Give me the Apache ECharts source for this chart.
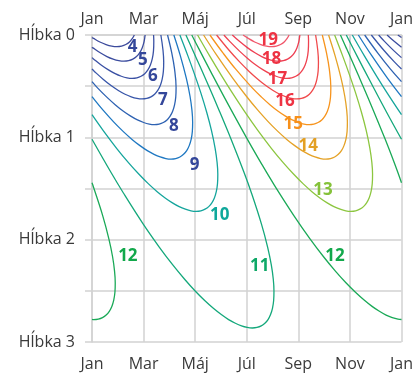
<!DOCTYPE html>
<html><head><meta charset="utf-8">
<script src="https://cdn.jsdelivr.net/npm/echarts@6/dist/echarts.min.js"></script>
<style>html,body{margin:0;padding:0;background:#fff}#c{width:416px;height:376px}</style>
</head><body><div id="c"></div>
<script>
// x = month (0 = Jan ... 12 = next Jan), y = depth (Hĺbka)
const monthTicks = ['Jan', 'Mar', 'Máj', 'Júl', 'Sep', 'Nov', 'Jan'];
const depthTicks = ['Hĺbka 0', 'Hĺbka 1', 'Hĺbka 2', 'Hĺbka 3'];

// contour lines: each level is a list of pieces of [month, depth]
const iso4 = [
  [[11.858,0],[12,0.024]],
  [[0,0.024],[0.045,0.031],[0.306,0.068],[0.546,0.093],[0.766,0.108],[0.966,0.113],[1.148,0.108],[1.31,0.093],[1.452,0.068],[1.573,0.031],[1.642,0]]
];
const iso5 = [
  [[11.44,0],[11.727,0.0645],[12,0.119]],
  [[0,0.119],[0.035,0.126],[0.319,0.174],[0.58,0.211],[0.819,0.236],[1.039,0.251],[1.24,0.256],[1.421,0.251],[1.583,0.236],[1.726,0.211],[1.847,0.174],[1.945,0.126],[2.019,0.0645],[2.06,0]]
];
const iso6 = [
  [[11.113,0],[11.34,0.062],[11.71,0.155],[12,0.221]],
  [[0,0.221],[0.046,0.231],[0.354,0.293],[0.638,0.341],[0.899,0.378],[1.138,0.403],[1.358,0.418],[1.559,0.423],[1.74,0.418],[1.902,0.403],[2.044,0.378],[2.166,0.341],[2.264,0.293],[2.338,0.231],[2.384,0.155],[2.396,0.062],[2.387,0]]
];
const iso7 = [
  [[10.83,0],[11.315,0.149],[11.724,0.263],[12,0.333]],
  [[0,0.333],[0.093,0.356],[0.43,0.432],[0.738,0.494],[1.021,0.542],[1.282,0.579],[1.522,0.604],[1.742,0.619],[1.942,0.624],[2.124,0.619],[2.286,0.604],[2.428,0.579],[2.549,0.542],[2.648,0.494],[2.721,0.432],[2.767,0.356],[2.78,0.263],[2.753,0.149],[2.67,0]]
];
const iso8 = [
  [[10.571,0],[11.083,0.177],[11.573,0.334],[12,0.456]],
  [[0,0.456],[0.204,0.514],[0.573,0.607],[0.909,0.683],[1.218,0.745],[1.501,0.793],[1.762,0.83],[2.002,0.855],[2.221,0.87],[2.422,0.875],[2.603,0.87],[2.765,0.855],[2.908,0.83],[3.029,0.793],[3.127,0.745],[3.201,0.683],[3.247,0.607],[3.26,0.514],[3.201,0.334],[3.094,0.177],[2.929,0]]
];
const iso9 = [
  [[10.327,0],[10.834,0.197],[11.454,0.421],[12,0.602]],
  [[0,0.602],[0.438,0.737],[0.847,0.851],[1.216,0.944],[1.552,1.02],[1.86,1.081],[2.144,1.13],[2.405,1.166],[2.644,1.192],[2.864,1.207],[3.065,1.212],[3.246,1.207],[3.408,1.192],[3.55,1.166],[3.672,1.13],[3.77,1.081],[3.844,1.02],[3.89,0.944],[3.902,0.851],[3.876,0.737],[3.799,0.596],[3.656,0.421],[3.418,0.197],[3.173,0]]
];
const iso10 = [
  [[10.093,0],[10.561,0.204],[11.039,0.404],[11.448,0.568],[12,0.779]],
  [[0,0.779],[0.429,0.932],[0.954,1.107],[1.413,1.247],[1.822,1.361],[2.191,1.455],[2.527,1.531],[2.836,1.592],[3.119,1.64],[3.38,1.677],[3.62,1.702],[3.839,1.718],[4.04,1.723],[4.221,1.718],[4.384,1.702],[4.526,1.677],[4.647,1.64],[4.745,1.592],[4.819,1.531],[4.865,1.455],[4.878,1.361],[4.851,1.247],[4.774,1.107],[4.631,0.932],[4.45,0.757],[4.223,0.568],[4.004,0.404],[3.718,0.204],[3.407,0]]
];
const iso11 = [
  [[9.859,0],[10.294,0.214],[10.807,0.462],[11.407,0.747],[12,1.019]],
  [[0,1.019],[0.739,1.344],[1.217,1.544],[1.987,1.848],[2.607,2.072],[3.132,2.247],[3.591,2.387],[4.0,2.502],[4.369,2.595],[4.705,2.671],[5.013,2.732],[5.297,2.781],[5.558,2.817],[5.797,2.843],[6.017,2.858],[6.218,2.863],[6.399,2.858],[6.561,2.843],[6.703,2.817],[6.825,2.781],[6.923,2.732],[6.997,2.671],[7.043,2.595],[7.055,2.502],[7.029,2.387],[6.952,2.247],[6.809,2.072],[6.571,1.848],[6.182,1.544],[5.896,1.344],[5.412,1.031],[4.946,0.747],[4.46,0.462],[4.024,0.214],[3.641,0]]
];
const iso12 = [
  [[3.868,0],[4.14,0.133],[4.653,0.382],[5.253,0.666],[6.005,1.01],[6.585,1.264],[7.062,1.464],[7.833,1.767],[8.453,1.992],[8.978,2.167],[9.437,2.307],[9.846,2.421],[10.215,2.514],[10.551,2.59],[10.859,2.652],[11.143,2.7],[11.403,2.737],[11.643,2.762],[11.863,2.777],[12,2.78]],
  [[0,2.78],[0.064,2.782],[0.245,2.777],[0.407,2.762],[0.549,2.737],[0.671,2.7],[0.769,2.652],[0.843,2.59],[0.889,2.514],[0.901,2.421],[0.874,2.307],[0.798,2.167],[0.654,1.992],[0.417,1.767],[0.028,1.464],[0,1.444]],
  [[9.632,0],[9.87,0.133],[10.306,0.382],[10.791,0.666],[11.353,1.01],[11.742,1.264],[12,1.444]]
];
const iso13 = [
  [[4.093,0],[4.561,0.204],[5.039,0.404],[5.448,0.568],[6.0,0.779],[6.429,0.932],[6.954,1.107],[7.413,1.247],[7.822,1.361],[8.191,1.455],[8.527,1.531],[8.836,1.592],[9.119,1.64],[9.38,1.677],[9.62,1.702],[9.839,1.718],[10.04,1.723],[10.221,1.718],[10.384,1.702],[10.526,1.677],[10.647,1.64],[10.745,1.592],[10.819,1.531],[10.865,1.455],[10.878,1.361],[10.851,1.247],[10.774,1.107],[10.631,0.932],[10.45,0.757],[10.223,0.568],[10.004,0.404],[9.718,0.204],[9.407,0]]
];
const iso14 = [
  [[4.327,0],[4.834,0.197],[5.454,0.421],[5.979,0.596],[6.438,0.737],[6.847,0.851],[7.216,0.944],[7.552,1.02],[7.86,1.081],[8.144,1.13],[8.405,1.166],[8.644,1.192],[8.864,1.207],[9.065,1.212],[9.246,1.207],[9.408,1.192],[9.55,1.166],[9.672,1.13],[9.77,1.081],[9.844,1.02],[9.89,0.944],[9.902,0.851],[9.876,0.737],[9.799,0.596],[9.656,0.421],[9.418,0.197],[9.173,0]]
];
const iso15 = [
  [[4.571,0],[5.083,0.177],[5.573,0.334],[6.204,0.514],[6.573,0.607],[6.909,0.683],[7.218,0.745],[7.501,0.793],[7.762,0.83],[8.002,0.855],[8.221,0.87],[8.422,0.875],[8.603,0.87],[8.765,0.855],[8.908,0.83],[9.029,0.793],[9.127,0.745],[9.201,0.683],[9.247,0.607],[9.26,0.514],[9.201,0.334],[9.094,0.177],[8.929,0]]
];
const iso16 = [
  [[4.83,0],[5.315,0.149],[5.724,0.263],[6.093,0.356],[6.43,0.432],[6.738,0.494],[7.021,0.542],[7.282,0.579],[7.522,0.604],[7.742,0.619],[7.942,0.624],[8.124,0.619],[8.286,0.604],[8.428,0.579],[8.549,0.542],[8.648,0.494],[8.721,0.432],[8.767,0.356],[8.78,0.263],[8.753,0.149],[8.67,0]]
];
const iso17 = [
  [[5.113,0],[5.34,0.062],[5.71,0.155],[6.046,0.231],[6.354,0.293],[6.638,0.341],[6.899,0.378],[7.138,0.403],[7.358,0.418],[7.559,0.423],[7.74,0.418],[7.902,0.403],[8.044,0.378],[8.166,0.341],[8.264,0.293],[8.338,0.231],[8.384,0.155],[8.396,0.062],[8.387,0]]
];
const iso18 = [
  [[5.44,0],[5.727,0.0645],[6.035,0.126],[6.319,0.174],[6.58,0.211],[6.819,0.236],[7.039,0.251],[7.24,0.256],[7.421,0.251],[7.583,0.236],[7.726,0.211],[7.847,0.174],[7.945,0.126],[8.019,0.0645],[8.06,0]]
];
const iso19 = [
  [[5.858,0],[6.045,0.031],[6.306,0.068],[6.546,0.093],[6.766,0.108],[6.966,0.113],[7.148,0.108],[7.31,0.093],[7.452,0.068],[7.573,0.031],[7.642,0]]
];

const levels = [4, 5, 6, 7, 8, 9, 10, 11, 12, 13, 14, 15, 16, 17, 18, 19];
const isolines = [iso4, iso5, iso6, iso7, iso8, iso9, iso10, iso11, iso12, iso13, iso14, iso15, iso16, iso17, iso18, iso19];
const lineColors = ['#3c4a9c','#3c4d9f','#3b51a4','#3856a9','#2e62b2','#1f78c2','#15a59c','#14a87b','#1aa957','#8cc63f','#e5a227','#f7941d','#f04a4c','#ef4250','#ee3e52','#f0566a'];
const textColors = ['#34479a','#34479a','#34479a','#34479a','#34479a','#34479a','#0fa89b','#0ea867','#12a84b','#85c23a','#e3a024','#f7901a','#ee3343','#ee3343','#ee3343','#ee3343'];
// label anchor positions [month, depth] per level
const labelSpots = [
  [[1.57,0.117]], [[1.97,0.25]], [[2.36,0.40]], [[2.75,0.635]], [[3.17,0.89]], [[3.98,1.27]],
  [[4.95,1.76]], [[6.5,2.26]], [[1.39,2.16],[9.42,2.16]], [[8.96,1.515]], [[8.38,1.09]],
  [[7.8,0.87]], [[7.48,0.65]], [[7.19,0.43]], [[6.96,0.24]], [[6.83,0.05]]
];

const series = [];
isolines.forEach((pieces, i) => {
  pieces.forEach(p => {
    series.push({
      type: 'line', data: p, showSymbol: false, smooth: 0.4, silent: true,
      lineStyle: { color: lineColors[i], width: 1.3 }, z: 2
    });
  });
});
const labelData = [];
labelSpots.forEach((spots, i) => {
  spots.forEach(s => {
    labelData.push({
      value: s, name: String(levels[i]),
      label: { color: textColors[i] }
    });
  });
});
series.push({
  type: 'scatter', data: labelData, symbolSize: 0, itemStyle: { color: 'rgba(0,0,0,0)' }, z: 5, silent: true,
  label: { show: true, position: 'inside', formatter: p => p.name, opacity: 1,
    textBorderWidth: 0, textShadowBlur: 0,
    fontFamily: 'Open Sans', fontWeight: 'bold', fontSize: 17 }
});

const gridColor = '#d2d2d2';
const chart = echarts.init(document.getElementById('c'), null, { renderer: 'canvas' });
chart.setOption({
  animation: false,
  backgroundColor: '#fff',
  grid: { left: 92, right: 14, top: 35, bottom: 34 },
  xAxis: [{
    type: 'value', min: 0, max: 12, interval: 2, position: 'bottom',
    axisLine: { show: true, lineStyle: { color: gridColor, width: 1.5 } },
    axisTick: { show: true, length: 8, lineStyle: { color: gridColor, width: 1.5 } },
    splitLine: { show: true, lineStyle: { color: gridColor, width: 1.5 } },
    axisLabel: { formatter: v => monthTicks[Math.round(v / 2)], fontFamily: 'Open Sans', fontSize: 16, color: '#3a3a3a', margin: 14 }
  }, {
    type: 'value', min: 0, max: 12, interval: 2, position: 'top',
    axisLine: { show: false }, axisTick: { show: false }, splitLine: { show: false },
    axisLabel: { formatter: v => monthTicks[Math.round(v / 2)], fontFamily: 'Open Sans', fontSize: 16, color: '#3a3a3a', margin: 8 }
  }],
  yAxis: {
    type: 'value', min: 0, max: 3, interval: 0.5, inverse: true,
    axisLine: { show: true, lineStyle: { color: gridColor, width: 1.5 } },
    axisTick: { show: true, length: 7, lineStyle: { color: gridColor, width: 1.5 } },
    splitLine: { show: true, lineStyle: { color: gridColor, width: 1.5 } },
    axisLabel: { formatter: v => (Math.abs(v - Math.round(v)) < 1e-6 ? depthTicks[Math.round(v)] : ''),
      fontFamily: 'Open Sans', fontSize: 16, color: '#3a3a3a', margin: 17 }
  },
  series: series
});
</script></body></html>
